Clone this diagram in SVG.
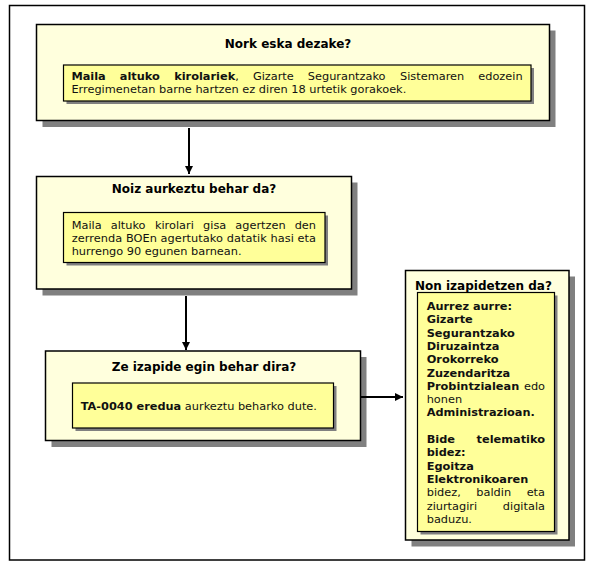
<svg xmlns="http://www.w3.org/2000/svg" width="590" height="566" viewBox="0 0 590 566">
<style>
.frame{fill:#ffffff;stroke:#000;stroke-width:1.5}
.outer{fill:#ffffdd;stroke:#000;stroke-width:1.5}
.inner{fill:#ffff99;stroke:#000;stroke-width:1.2}
.shadow{fill:#808080}
.title{font-family:"DejaVu Sans",Verdana,sans-serif;font-size:12px;font-weight:bold;fill:#000}
.body{font-family:"DejaVu Sans",Verdana,sans-serif;font-size:11.33px;fill:#111}
.b{font-weight:bold}
.conn{stroke:#000;stroke-width:2;fill:none}
</style>
<defs>
<marker id="arr" markerUnits="userSpaceOnUse" markerWidth="9" markerHeight="8" refX="8" refY="4" orient="auto">
<path d="M0,0 L8,4 L0,8 Z" fill="#000"/>
</marker>
</defs>
<rect class="frame" x="9.5" y="5.5" width="575" height="554.5"/>

<g id="node1">
<rect class="shadow" x="42.5" y="30.5" width="513" height="96.5"/>
<rect class="outer" x="36.5" y="24.5" width="513" height="96"/>
<text class="title" x="288" y="48" text-anchor="middle">Nork eska dezake?</text>
<rect class="shadow" x="66.5" y="68" width="467.5" height="36"/>
<rect class="inner" x="63.5" y="65" width="467.5" height="36"/>
<text class="body" y="80"><tspan class="b" x="71.4">Maila</tspan><tspan class="b" x="119.8">altuko</tspan><tspan class="b" x="174.2">kirolariek</tspan><tspan>,</tspan><tspan x="252.9">Gizarte</tspan><tspan x="307.8">Segurantzako</tspan><tspan x="400">Sistemaren</tspan></text>
<text class="body" x="522.6" y="80" text-anchor="end">edozein</text>
<text class="body" x="71.4" y="93.3">Erregimenetan barne hartzen ez diren 18 urtetik gorakoek.</text>
</g>

<g id="node2">
<rect class="shadow" x="42.5" y="182.5" width="315" height="113"/>
<rect class="outer" x="36.5" y="176.5" width="315" height="112.5"/>
<text class="title" x="194" y="193" text-anchor="middle">Noiz aurkeztu behar da?</text>
<rect class="shadow" x="66.5" y="215.5" width="261.5" height="50"/>
<rect class="inner" x="63.5" y="212.5" width="261.5" height="50"/>
<text class="body" y="228.5"><tspan x="71.7">Maila</tspan><tspan x="110.7">altuko</tspan><tspan x="154.9">kirolari</tspan><tspan x="203.1">gisa</tspan><tspan x="235.3">agertzen</tspan></text>
<text class="body" x="316" y="228.5" text-anchor="end">den</text>
<text class="body" x="71.7" y="241.8" textLength="244.3" lengthAdjust="spacing">zerrenda BOEn agertutako datatik hasi eta</text>
<text class="body" x="71.7" y="255.1">hurrengo 90 egunen barnean.</text>
</g>

<g id="node3">
<rect class="shadow" x="51.5" y="357" width="315" height="90"/>
<rect class="outer" x="45.5" y="351" width="315" height="89.5"/>
<text class="title" x="204" y="371" text-anchor="middle">Ze izapide egin behar dira?</text>
<rect class="shadow" x="75.5" y="386" width="261" height="45"/>
<rect class="inner" x="72.5" y="383" width="261" height="45"/>
<text class="body" x="80.7" y="410"><tspan class="b">TA-0040 eredua</tspan> aurkeztu beharko dute.</text>
</g>

<g id="node4">
<rect class="shadow" x="411.5" y="276.5" width="163.5" height="270"/>
<rect class="outer" x="405.5" y="270.5" width="163.5" height="269.5"/>
<rect class="shadow" x="420.5" y="295.5" width="137" height="239"/>
<rect class="inner" x="417.5" y="292.5" width="137" height="239"/>
<text class="title" x="415" y="290">Non izapidetzen da?</text>
<text class="body b" x="426.7" y="310">Aurrez aurre:</text>
<text class="body b" x="426.7" y="323.3">Gizarte</text>
<text class="body b" x="426.7" y="336.6">Segurantzako</text>
<text class="body b" x="426.7" y="349.9">Diruzaintza</text>
<text class="body b" x="426.7" y="363.2">Orokorreko</text>
<text class="body b" x="426.7" y="376.5">Zuzendaritza</text>
<text class="body b" x="426.7" y="389.8">Probintzialean</text>
<text class="body" x="545" y="389.8" text-anchor="end">edo</text>
<text class="body" x="426.7" y="403.1">honen</text>
<text class="body b" x="426.7" y="416.4">Administrazioan.</text>
<text class="body b" x="426.7" y="443">Bide</text>
<text class="body b" x="545" y="443" text-anchor="end">telematiko</text>
<text class="body b" x="426.7" y="456.3">bidez:</text>
<text class="body b" x="426.7" y="469.6">Egoitza</text>
<text class="body b" x="426.7" y="482.9">Elektronikoaren</text>
<text class="body" y="496.2"><tspan x="426.7">bidez,</tspan><tspan x="476.3">baldin</tspan></text>
<text class="body" x="545" y="496.2" text-anchor="end">eta</text>
<text class="body" x="426.7" y="509.5">ziurtagiri</text>
<text class="body" x="545" y="509.5" text-anchor="end">digitala</text>
<text class="body" x="426.7" y="522.8">baduzu.</text>
</g>

<g id="connectors">
<line class="conn" x1="189" y1="128" x2="189" y2="174" marker-end="url(#arr)"/>
<line class="conn" x1="186" y1="296" x2="186" y2="350" marker-end="url(#arr)"/>
<line class="conn" x1="361" y1="397" x2="403" y2="397" marker-end="url(#arr)"/>
</g>
</svg>
